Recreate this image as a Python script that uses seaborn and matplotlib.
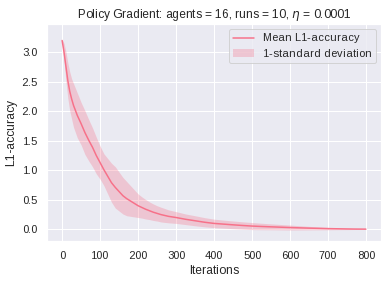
import matplotlib
matplotlib.use("Agg")
import numpy as np
import matplotlib.pyplot as plt
import seaborn as sns

#--> Data
iterations = [0, 5, 10, 15, 20, 25, 30, 40, 50, 60, 70, 80, 90, 100, 110, 120, 130, 140,
              150, 160, 170, 180, 190, 200, 210, 220, 230, 240, 250, 260, 270, 280, 290,
              300, 325, 350, 375, 400, 425, 450, 475, 500, 525, 550, 575, 600, 625, 650,
              675, 700, 725, 750, 775, 800]
mean_l1 = [3.20, 3.00, 2.76, 2.52, 2.34, 2.21, 2.10, 1.93, 1.79, 1.64, 1.51, 1.39, 1.25,
           1.13, 1.01, 0.90, 0.79, 0.71, 0.64, 0.57, 0.52, 0.48, 0.44, 0.40, 0.37, 0.34,
           0.315, 0.29, 0.27, 0.25, 0.235, 0.22, 0.21, 0.20, 0.17, 0.145, 0.12, 0.10,
           0.088, 0.076, 0.065, 0.055, 0.048, 0.042, 0.036, 0.030, 0.025, 0.020, 0.016,
           0.012, 0.009, 0.006, 0.004, 0.003]
std_l1 = [0.02, 0.15, 0.25, 0.30, 0.33, 0.34, 0.37, 0.38, 0.36, 0.37, 0.35, 0.33, 0.31,
          0.28, 0.27, 0.30, 0.33, 0.35, 0.33, 0.31, 0.29, 0.26, 0.23, 0.20, 0.18, 0.165,
          0.15, 0.14, 0.13, 0.125, 0.118, 0.11, 0.105, 0.10, 0.09, 0.085, 0.078, 0.072,
          0.068, 0.065, 0.062, 0.06, 0.055, 0.05, 0.046, 0.042, 0.036, 0.03, 0.025,
          0.02, 0.015, 0.011, 0.007, 0.004]

#--> Plot
sns.set_theme(style="darkgrid")
plt.rcParams['font.family'] = ['Liberation Sans', 'DejaVu Sans']
plt.rcParams['text.hinting_factor'] = 1
color = sns.color_palette("husl", 8)[0]

fig, ax = plt.subplots(figsize=(388 / 72, 282 / 72), dpi=72)
fig.subplots_adjust(left=0.121, right=0.982, top=0.915, bottom=0.145)

x = np.array(iterations)
m = np.array(mean_l1)
s = np.array(std_l1)
sns.lineplot(x=x, y=m, ax=ax, color=color, label="Mean L1-accuracy")
ax.fill_between(x, m - s, m + s, color=color, alpha=0.3, linewidth=0,
                label="1-standard deviation")

ax.set_xlim(-40, 840)
ax.set_ylim(-0.2, 3.48)
ax.set_xticks(range(0, 801, 100))
ax.tick_params(labelsize=10.5)
ax.set_title(r"Policy Gradient: agents = 16, runs = 10, $\eta$ = 0.0001", fontsize=12)
ax.set_xlabel("Iterations", fontsize=11.5)
ax.set_ylabel("L1-accuracy", fontsize=11.5)
ax.legend(loc="upper right", fontsize=10.5)

fig.savefig("out.png", dpi=72)
